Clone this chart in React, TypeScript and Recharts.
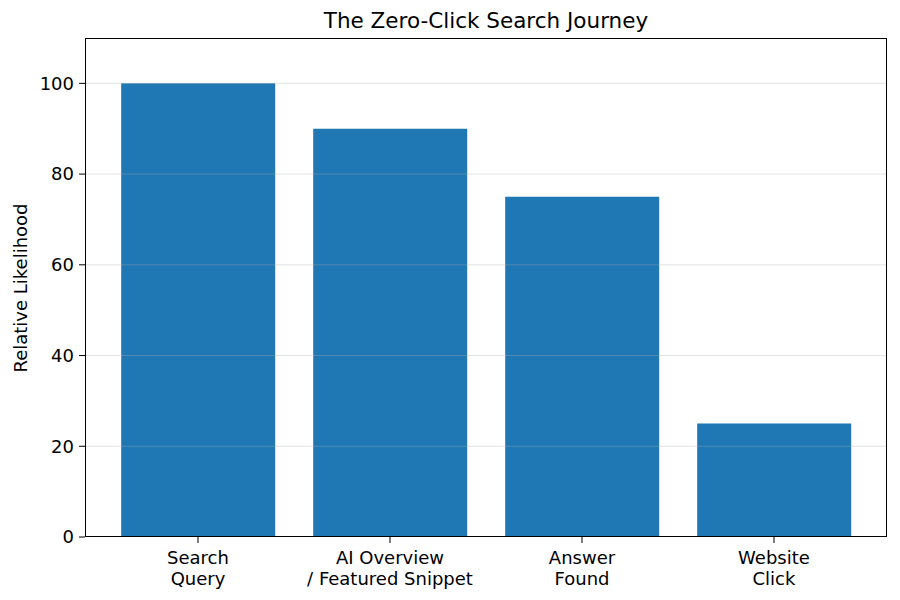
import { BarChart, Bar, XAxis, YAxis, ReferenceLine } from 'recharts';

const stages = ['Search\nQuery', 'AI Overview\n/ Featured Snippet', 'Answer\nFound', 'Website\nClick'];
const likelihood = [100, 90, 75, 25];
const yTicks = [0, 20, 40, 60, 80, 100];

const font = '"DejaVu Sans", sans-serif';

const chartData = stages.map((stage, i) => ({ stage, value: likelihood[i] }));

function StageTick(props: any) {
  const { x, y, payload } = props;
  const lines = String(payload.value).split('\n');
  return (
    <text x={x} y={y} textAnchor="middle" fontSize={18} fill="#000" fontFamily={font}>
      {lines.map((line, i) => (
        <tspan key={i} x={x} dy={i === 0 ? 19 : 21}>
          {line}
        </tspan>
      ))}
    </text>
  );
}

export default function App() {
  return (
    <div style={{ position: 'absolute', left: 0, top: 0, width: 900, height: 600, background: '#fff' }}>
      <div
        style={{
          position: 'absolute',
          left: 85,
          width: 802,
          top: 8,
          textAlign: 'center',
          fontFamily: font,
          fontSize: 21.5,
          color: '#000',
        }}
      >
        The Zero-Click Search Journey
      </div>
      <div
        style={{
          position: 'absolute',
          left: 20,
          top: 288,
          transform: 'translate(-50%, -50%) rotate(-90deg)',
          fontFamily: font,
          fontSize: 18,
          whiteSpace: 'nowrap',
          color: '#000',
        }}
      >
        Relative Likelihood
      </div>
      <BarChart
        width={900}
        height={600}
        data={chartData}
        margin={{ top: 38, right: 13, bottom: 33, left: 0 }}
        barCategoryGap="10%"
      >
        <XAxis
          dataKey="stage"
          height={30}
          padding={{ left: 17, right: 17 }}
          tick={<StageTick />}
          tickSize={6}
          tickLine={{ stroke: '#000' }}
          axisLine={false}
          interval={0}
        />
        <YAxis
          domain={[0, 110]}
          ticks={yTicks}
          width={85}
          tickSize={6}
          tickMargin={5}
          tick={{ fontSize: 18, fill: '#000', fontFamily: font }}
          tickLine={{ stroke: '#000' }}
          axisLine={false}
          allowDataOverflow
        />
        <Bar dataKey="value" fill="#1f77b4" isAnimationActive={false} />
        {yTicks.slice(1).map((t) => (
          <ReferenceLine key={t} y={t} stroke="#b0b0b0" strokeOpacity={0.35} strokeWidth={1} />
        ))}
      </BarChart>
      <div
        style={{
          position: 'absolute',
          left: 84.5,
          top: 37.5,
          width: 802,
          height: 499,
          border: '1.2px solid #000',
          boxSizing: 'border-box',
          pointerEvents: 'none',
        }}
      />
    </div>
  );
}
